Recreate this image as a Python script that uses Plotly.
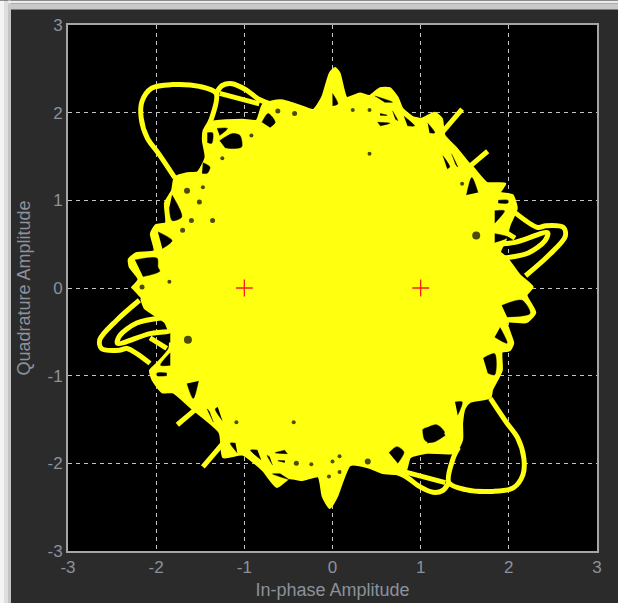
import plotly.graph_objects as go

N = None
# Filled core of the I/Q trajectory (outer envelope, clockwise from the left tip)
core_i = [-2.28,-2.20,-2.30,-2.31,-2.22,-2.02,-2.06,-2.00,-1.89,-1.90,-1.82,-1.79,-1.65,-1.53,-1.44,-1.47,-1.46,-1.39,-1.02,-0.86,-0.79,-0.63,-0.56,-0.37,-0.22,-0.12,-0.03,0.03,0.08,0.16,0.31,0.42,0.54,0.65,0.74,0.79,0.91,1.01,1.16,1.24,1.27,1.41,1.54,1.59,1.75,1.96,1.90,2.04,2.09,2.01,1.96,1.90,1.98,2.12,2.27,
          2.20,2.30,2.20,1.98,2.05,2.01,1.92,1.92,1.81,1.79,1.56,1.50,1.47,1.47,1.39,1.07,0.88,0.82,0.57,0.42,0.20,0.05,-0.03,-0.11,-0.16,-0.34,-0.49,-0.63,-0.79,-1.02,-1.24,-1.28,-1.60,-1.81,-1.93,-2.04,-2.07,-1.99,-1.85,-1.85,-1.90,-2.13,-2.17]
core_q = [0.00,0.10,0.24,0.33,0.40,0.42,0.62,0.72,0.74,0.97,1.11,1.26,1.31,1.32,1.49,1.68,1.80,1.89,1.92,1.91,2.09,2.14,2.14,2.08,2.03,2.17,2.45,2.51,2.45,2.17,2.22,2.19,2.28,2.28,2.17,2.05,1.95,1.93,2.00,1.93,1.74,1.59,1.43,1.38,1.20,1.19,1.09,1.06,0.91,0.72,0.54,0.41,0.34,0.15,0.01,
          -0.08,-0.28,-0.39,-0.39,-0.63,-0.71,-0.73,-0.94,-1.16,-1.25,-1.30,-1.37,-1.54,-1.73,-1.88,-1.88,-1.93,-2.11,-2.11,-2.05,-2.02,-2.38,-2.51,-2.38,-2.15,-2.19,-2.17,-2.27,-2.08,-1.90,-1.93,-1.65,-1.37,-1.19,-1.19,-1.05,-0.94,-0.86,-0.69,-0.52,-0.39,-0.23,-0.12]

# Thin excursions of the trajectory outside the core
loop_i = [-1.79,-1.97,-2.10,-2.17,-2.16,-2.05,-1.82,-1.51,-1.32,-1.37,-1.43,N,
          -1.32,-1.25,-1.14,-0.98,-0.83,-0.68,N,-1.28,-0.83,N,
          1.79,1.97,2.10,2.17,2.16,2.05,1.82,1.51,1.32,1.37,1.43,N,
          1.32,1.25,1.14,0.98,0.83,0.68,N,1.28,0.83,N,
          -2.19,-2.45,-2.64,-2.62,-2.42,-2.33,-2.07,N,
          -1.93,-2.22,-2.41,-2.44,-2.07,-1.85,N,-2.07,-1.88,N,
          2.19,2.45,2.64,2.62,2.42,2.33,2.07,N,
          1.93,2.22,2.41,2.44,2.07,1.85,N,2.07,1.88,N,
          -1.76,-1.56,N,-1.47,-1.24,N,-1.48,-1.28,N,
          1.76,1.56,N,1.47,1.24,N,1.48,1.28]
loop_q = [1.26,1.53,1.71,1.94,2.13,2.28,2.32,2.30,2.22,1.94,1.82,N,
          2.22,2.31,2.33,2.26,2.15,2.09,N,2.22,2.10,N,
          -1.26,-1.53,-1.71,-1.94,-2.13,-2.28,-2.32,-2.30,-2.22,-1.94,-1.82,N,
          -2.22,-2.31,-2.33,-2.26,-2.15,-2.09,N,-2.22,-2.10,N,
          -0.14,-0.37,-0.59,-0.69,-0.71,-0.69,-0.86,N,
          -0.34,-0.40,-0.54,-0.63,-0.52,-0.50,N,-0.57,-0.69,N,
          0.14,0.37,0.59,0.69,0.71,0.69,0.86,N,
          0.34,0.40,0.54,0.63,0.52,0.50,N,0.57,0.69,N,
          -1.56,-1.39,N,-2.04,-1.77,N,-1.39,-1.60,N,
          1.56,1.39,N,2.04,1.77,N,1.39,1.60]

# Gaps left open inside the core
gap_i = [-1.28,-1.14,-1.05,-1.03,-1.13,-1.22,N,-0.80,-0.73,-0.65,-0.71,N,-1.42,-1.36,-1.37,-1.42,N,-1.31,-1.19,-1.28,N,
         -1.82,-1.71,-1.82,-1.85,N,-1.98,-1.82,-1.93,N,-2.24,-1.99,-1.98,-1.96,-2.15,N,-1.47,-1.39,-1.42,-1.48,N,
         1.84,1.95,1.84,N,1.88,1.99,1.99,1.88,N,1.84,1.99,1.84,N,1.52,1.58,1.65,N,1.25,1.33,1.30,N,1.35,1.42,1.39,N,
         0.81,0.93,0.85,N,1.08,1.16,1.10,N,0.48,0.68,0.59,N,0.51,0.65,0.54,N,0.54,0.62,0.54,N,0.68,0.74,0.71,N,0.00,0.06,0.00,N,
         1.92,2.15,2.24,1.98,N,1.90,1.98,1.84,N,1.71,1.84,1.84,1.76,N,1.39,1.47,1.42,N,1.02,1.18,1.27,1.08,N,0.64,0.73,0.81,0.74,N,
         1.28,1.14,1.05,1.03,1.13,1.22,N,
         -1.84,-1.95,-1.84,N,-1.88,-1.99,-1.99,-1.88,N,-1.84,-1.99,-1.84,N,-1.52,-1.58,-1.65,N,-1.25,-1.33,-1.30,N,-1.35,-1.42,-1.39,N,
         -0.81,-0.93,-0.85,N,-1.08,-1.16,-1.10,N,-0.48,-0.68,-0.59,N,-0.51,-0.65,-0.54,N,-0.54,-0.62,-0.54,N,-0.68,-0.74,-0.71]
gap_q = [1.68,1.76,1.74,1.61,1.59,1.60,N,1.89,1.99,1.89,1.83,N,1.77,1.77,1.65,1.66,N,1.82,1.82,1.74,N,
         1.06,0.81,0.77,0.92,N,0.64,0.54,0.45,N,0.32,0.34,0.24,0.19,0.13,N,1.43,1.38,1.31,1.31,N,
         0.88,0.88,0.74,N,1.00,1.00,0.97,0.97,N,0.62,0.58,0.52,N,1.06,1.26,1.09,N,1.51,1.38,1.36,N,1.53,1.38,1.42,N,
         1.96,1.85,1.85,N,1.88,1.77,1.77,N,2.19,2.12,2.12,N,1.89,1.88,1.85,N,1.99,1.97,1.97,N,2.02,1.91,1.93,N,2.22,2.10,2.08,N,
         -0.20,-0.14,-0.29,-0.33,N,-0.45,-0.63,-0.56,N,-0.80,-0.75,-0.99,-0.97,N,-1.30,-1.30,-1.45,N,-1.62,-1.56,-1.65,-1.77,N,-1.88,-1.81,-1.87,-2.00,N,
         -1.68,-1.76,-1.74,-1.61,-1.59,-1.60,N,
         -0.88,-0.88,-0.74,N,-1.00,-1.00,-0.97,-0.97,N,-0.62,-0.58,-0.52,N,-1.06,-1.26,-1.09,N,-1.51,-1.38,-1.36,N,-1.53,-1.38,-1.42,N,
         -1.96,-1.85,-1.85,N,-1.88,-1.77,-1.77,N,-2.19,-2.12,-2.12,N,-1.89,-1.88,-1.85,N,-1.99,-1.97,-1.97,N,-2.02,-1.91,-1.93]

# Pin-hole specks
speck_i = [-1.65,-1.51,-1.60,-1.70,-1.36,-0.92,-1.25,-1.47,-1.85,-2.16,0.42,1.63,1.47,-1.64,-0.44,-1.09,-0.62,-0.43,0.23,0.42,-0.41,-0.24,0.00,0.08,0.40,-0.04,0.08]
speck_q = [1.11,0.98,0.77,0.66,0.77,1.74,1.48,1.15,0.07,0.01,1.53,0.60,1.19,-0.59,-1.53,-1.53,2.02,1.99,2.03,2.03,-2.00,-2.01,-1.98,-1.92,-1.98,-2.15,-2.10]
speck_d = [6,5,5,5,5,4,4,4,4,5,4,8,4,8,4,4,5,5,4,4,5,4,4,4,6,4,4]

# Ideal constellation points
ref_i = [-1, 1]
ref_q = [0, 0]

ticks = [-3, -2, -1, 0, 1, 2, 3]
x_title = "In-phase Amplitude"
y_title = "Quadrature Amplitude"

YELLOW = "#ffff10"
TXT = "#8b929b"
fig = go.Figure()
fig.add_trace(go.Scatter(x=core_i, y=core_q, mode="lines", fill="toself", fillcolor=YELLOW,
                         line=dict(color=YELLOW, width=2, shape="spline", smoothing=0.55), hoverinfo="skip"))
fig.add_trace(go.Scatter(x=loop_i, y=loop_q, mode="lines",
                         line=dict(color=YELLOW, width=5, shape="spline", smoothing=0.9), hoverinfo="skip"))
fig.add_trace(go.Scatter(x=gap_i, y=gap_q, mode="lines", fill="toself", fillcolor="black",
                         line=dict(color="black", width=0.5, shape="spline", smoothing=0.8), hoverinfo="skip"))
fig.add_trace(go.Scatter(x=speck_i, y=speck_q, mode="markers",
                         marker=dict(color="black", size=speck_d, line=dict(width=0)), hoverinfo="skip"))
fig.add_trace(go.Scatter(x=ref_i, y=ref_q, mode="markers",
                         marker=dict(symbol="cross-thin", size=12, line=dict(color="#ff1a1a", width=1.3)),
                         hoverinfo="skip"))

axis = dict(range=[-3, 3], tickvals=ticks, ticktext=[str(t) for t in ticks], showgrid=True,
            gridcolor="#c4c4c4", gridwidth=1, griddash="4px,4px", zeroline=False, automargin=False,
            showline=True, linecolor="#a6a6a6", linewidth=2, mirror=True, ticks="",
            tickfont=dict(family="Liberation Sans", size=17, color=TXT))
fig.update_xaxes(**axis, title=dict(text=x_title, standoff=7,
                 font=dict(family="Liberation Sans", size=18, color=TXT)))
fig.update_yaxes(**axis, title=dict(text=y_title, standoff=12,
                 font=dict(family="Liberation Sans", size=18, color=TXT)))

W = 529.0
H = 526.5
def fx(p): return (p - 68) / W
def fy(p): return 1 - (p - 24.5) / H
shapes = []
for (a, b, c) in [(0, 4, "#f4f4f4"), (4, 8, "#dedede"), (8, 11, "#c4c4c4")]:
    shapes.append(dict(type="rect", xref="paper", yref="paper", x0=fx(a), x1=fx(b), y0=fy(603), y1=fy(0),
                       fillcolor=c, line=dict(width=0), layer="below"))
for (a, b, c) in [(0, 3, "#ececec"), (3, 9, "#c9c9c9")]:
    shapes.append(dict(type="rect", xref="paper", yref="paper", x0=fx(8), x1=fx(618), y0=fy(b), y1=fy(a),
                       fillcolor=c, line=dict(width=0), layer="below"))

fig.update_layout(width=618, height=603, autosize=False, showlegend=False,
                  paper_bgcolor="#2b2b2b", plot_bgcolor="black",
                  margin=dict(l=68, r=21, t=24.5, b=52), shapes=shapes)
fig.write_html("out.html", post_script="document.body.style.margin='0';document.body.style.overflow='hidden';",
               config=dict(displayModeBar=False))
